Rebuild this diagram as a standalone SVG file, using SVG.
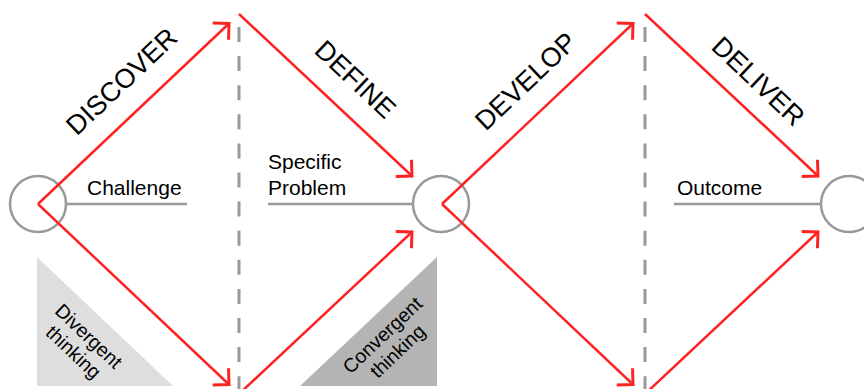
<svg xmlns="http://www.w3.org/2000/svg" width="864" height="389" viewBox="0 0 864 389">
  <defs>
    <style>
      text { font-family: "Liberation Sans", Arial, sans-serif; fill: #000; }
      .stage { font-size: 27px; }
      .label { font-size: 21px; }
      .mode { font-size: 19.5px; text-anchor: middle; }
      .stage-label { text-anchor: middle; }
      .point { fill: #fff; stroke: #999; stroke-width: 2.5; }
      .baseline { stroke: #999; stroke-width: 2.5; fill: none; }
      .divider { stroke: #999; stroke-width: 3; stroke-dasharray: 15 14.1; fill: none; }
      .flow { stroke: #f22; stroke-width: 2.5; fill: none; marker-end: url(#chevron); }
    </style>
    <marker id="chevron" markerUnits="userSpaceOnUse" viewBox="-15 -15 30 30" refX="0" refY="0" markerWidth="30" markerHeight="30" orient="auto" overflow="visible">
      <path d="M-11.5,-11.5 L0,0 L-11.5,11.5" fill="none" stroke="#f22" stroke-width="3"/>
    </marker>
  </defs>

  <!-- thinking-mode wedges -->
  <g id="divergent">
    <polygon points="37,257 37,386 173,386" fill="#dedede"/>
    <g transform="translate(84,341) rotate(43.4)">
      <text class="mode" x="0" y="0">Divergent</text>
      <text class="mode" x="0" y="22">thinking</text>
    </g>
  </g>
  <g id="convergent">
    <polygon points="437,257 437,386 300,386" fill="#b4b4b4"/>
    <g transform="translate(387,340) rotate(-43.4)">
      <text class="mode" x="0" y="0">Convergent</text>
      <text class="mode" x="0" y="22">thinking</text>
    </g>
  </g>

  <!-- phase dividers -->
  <g id="dividers">
    <line class="divider" x1="239" y1="27" x2="239" y2="389"/>
    <line class="divider" x1="645" y1="27" x2="645" y2="389"/>
  </g>

  <!-- milestone points with their labels -->
  <g id="challenge">
    <line class="baseline" x1="66" y1="204" x2="187" y2="204"/>
    <circle class="point" cx="38" cy="204" r="28"/>
    <text class="label" x="87" y="195">Challenge</text>
  </g>
  <g id="problem">
    <line class="baseline" x1="268" y1="204" x2="413" y2="204"/>
    <circle class="point" cx="441" cy="204" r="28"/>
    <text class="label" x="268" y="169">Specific</text>
    <text class="label" x="268" y="195">Problem</text>
  </g>
  <g id="outcome">
    <line class="baseline" x1="674" y1="204" x2="821" y2="204"/>
    <circle class="point" cx="849" cy="204" r="28"/>
    <text class="label" x="677" y="195">Outcome</text>
  </g>

  <!-- diamond flows -->
  <g id="connectors">
    <path class="flow" d="M38,204 L229,23.5"/>
    <path class="flow" d="M38,204 L229,384.5"/>
    <path class="flow" d="M239,14 L412,176"/>
    <path class="flow" d="M239,394 L412,232"/>
    <path class="flow" d="M442,204 L633,23.5"/>
    <path class="flow" d="M442,204 L633,384.5"/>
    <path class="flow" d="M645,14 L818,176"/>
    <path class="flow" d="M645,394 L818,232"/>
  </g>

  <!-- phase names -->
  <g id="discover"><text class="stage stage-label" transform="translate(128,88) rotate(-43.4)">DISCOVER</text></g>
  <g id="define"><text class="stage stage-label" transform="translate(349,86) rotate(43.4)">DEFINE</text></g>
  <g id="develop"><text class="stage stage-label" transform="translate(532,88) rotate(-43.4)">DEVELOP</text></g>
  <g id="deliver"><text class="stage stage-label" transform="translate(752,88) rotate(43.4)">DELIVER</text></g>
</svg>
